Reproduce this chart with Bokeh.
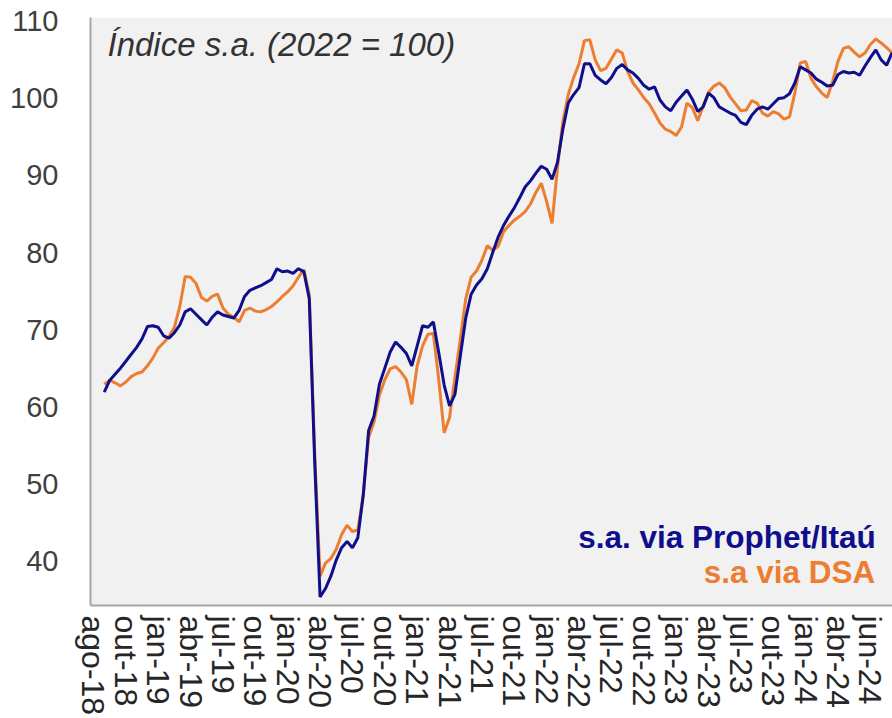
import math
from bokeh.plotting import figure
from bokeh.models import FixedTicker, Range1d, Label
from bokeh.embed import file_html
from bokeh.resources import INLINE

# x index: 6 steps per axis label interval
tick_labels = ["ago-18", "out-18", "jan-19", "abr-19", "jul-19", "out-19", "jan-20",
               "abr-20", "jul-20", "out-20", "jan-21", "abr-21", "jul-21", "out-21",
               "jan-22", "abr-22", "jul-22", "out-22", "jan-23", "abr-23", "jul-23",
               "out-23", "jan-24", "abr-24", "jun-24"]
steps_per_label = 6
first_index = 2

prophet = [
    61.9, 63.4, 64.2, 65.0, 65.9, 66.8, 67.7, 68.8, 70.4, 70.5,
    70.3, 69.2, 68.9, 69.6, 70.6, 72.3, 72.7, 72.0, 71.3, 70.6,
    71.6, 72.3, 71.9, 71.7, 71.5, 72.5, 74.3, 75.1, 75.4, 75.7,
    76.1, 76.5, 77.9, 77.5, 77.6, 77.3, 77.9, 77.5, 74.0, 53.0,
    35.3, 36.4, 38.0, 40.1, 41.7, 42.5, 41.7, 43.0, 48.5, 56.9,
    58.8, 62.9, 65.0, 67.1, 68.4, 67.7, 66.9, 65.3, 67.9, 70.5,
    70.3, 71.0, 67.0, 62.8, 60.1, 61.6, 66.6, 71.5, 74.6, 75.8,
    76.6, 77.9, 80.0, 82.0, 83.5, 84.7, 85.8, 87.1, 88.5, 89.3,
    90.3, 91.2, 90.8, 89.5, 91.7, 96.0, 99.4, 100.5, 101.4, 104.5,
    104.5, 103.0, 102.4, 101.9, 102.7, 103.9, 104.4, 103.7, 103.3, 102.6,
    101.7, 101.2, 101.5, 99.8, 98.9, 98.4, 99.5, 100.3, 101.1, 99.9,
    98.3, 98.9, 100.7, 100.1, 98.9, 98.5, 98.1, 97.8, 96.9, 96.6,
    97.8, 98.6, 98.9, 98.6, 99.3, 100.0, 100.1, 100.6, 102.0, 104.1,
    103.7, 103.3, 102.5, 102.1, 101.6, 101.7, 103.1, 103.5, 103.3, 103.4,
    103.0, 104.2, 105.3, 106.3, 105.0, 104.3, 105.9,
]

dsa = [
    62.9, 63.4, 63.1, 62.7, 63.2, 63.9, 64.3, 64.5, 65.3, 66.3,
    67.6, 68.3, 69.1, 70.3, 73.0, 76.9, 76.8, 76.0, 74.2, 73.7,
    74.3, 74.6, 72.8, 72.0, 71.6, 71.0, 72.5, 72.8, 72.4, 72.3,
    72.6, 73.0, 73.6, 74.3, 74.9, 75.7, 76.8, 77.8, 74.5, 54.0,
    38.0, 39.7, 40.3, 41.5, 43.4, 44.6, 43.8, 44.0, 48.5, 56.0,
    58.0, 61.5, 63.5, 64.9, 65.2, 64.5, 63.5, 60.3, 65.3, 67.9,
    69.4, 69.5, 63.5, 56.6, 58.6, 63.8, 68.8, 74.0, 76.8, 77.6,
    79.0, 80.9, 80.3, 80.8, 82.7, 83.5, 84.2, 84.7, 85.3, 86.3,
    87.8, 89.0, 86.6, 83.8, 91.0, 97.0, 100.5, 102.7, 104.5, 107.5,
    107.6, 105.0, 103.6, 103.9, 105.1, 106.3, 105.9, 103.5, 102.0, 101.1,
    100.1, 99.3, 98.1, 96.8, 96.0, 95.7, 95.2, 96.3, 99.4, 98.8,
    97.1, 99.0, 100.8, 101.6, 102.0, 101.4, 100.2, 99.3, 98.4, 98.5,
    99.7, 99.4, 98.1, 97.7, 98.3, 98.0, 97.3, 97.6, 100.7, 104.6,
    104.8, 102.6, 101.5, 100.7, 100.1, 102.2, 104.8, 106.5, 106.7, 106.0,
    105.4, 105.9, 107.0, 107.7, 107.2, 106.6, 105.9,
]

y_ticks = [40, 50, 60, 70, 80, 90, 100, 110]

x = list(range(first_index, first_index + len(prophet)))
tick_pos = [k * steps_per_label for k in range(len(tick_labels))]

BLUE = "#0f0f8c"
ORANGE = "#ed7d31"

p = figure(width=892, height=718, output_backend="svg", toolbar_location=None,
           x_range=Range1d(-0.55, 148.1), y_range=Range1d(34.2, 110.5),
           min_border_left=90, min_border_right=0, min_border_top=17,
           min_border_bottom=110)

p.background_fill_color = "#f1f1f1"
p.border_fill_color = "white"
p.outline_line_color = None
p.grid.grid_line_color = None

p.line(x, dsa, line_color=ORANGE, line_width=3)
p.line(x, prophet, line_color=BLUE, line_width=3)

# axes
p.yaxis.ticker = FixedTicker(ticks=y_ticks)
p.yaxis.major_tick_line_color = None
p.yaxis.minor_tick_line_color = None
p.yaxis.axis_line_color = "#a6a6a6"
p.yaxis.axis_line_width = 2
p.yaxis.major_label_text_font = "Liberation Sans"
p.yaxis.major_label_text_font_size = "29px"
p.yaxis.major_label_text_color = "#404040"
p.yaxis.major_label_standoff = 26

p.xaxis.ticker = FixedTicker(ticks=tick_pos)
p.xaxis.major_label_overrides = {pos: lab for pos, lab in zip(tick_pos, tick_labels)}
p.xaxis.major_tick_line_color = None
p.xaxis.minor_tick_line_color = None
p.xaxis.axis_line_color = "#a6a6a6"
p.xaxis.axis_line_width = 2
p.xaxis.major_label_text_font = "Liberation Sans"
p.xaxis.major_label_text_font_size = "32px"
p.xaxis.major_label_text_color = "#262626"
p.xaxis.major_label_orientation = -math.pi / 2
p.xaxis.major_label_standoff = 4

# annotations
p.add_layout(Label(x=2.6, y=107.0, text="Índice s.a. (2022 = 100)",
                   text_font="Liberation Sans", text_font_style="italic",
                   text_font_size="33px", text_color="#333333",
                   text_baseline="alphabetic", text_align="left"))
p.add_layout(Label(x=145.0, y=43.1, text="s.a. via Prophet/Itaú",
                   text_font="Liberation Sans", text_font_style="bold",
                   text_font_size="31.5px", text_color=BLUE,
                   text_baseline="alphabetic", text_align="right"))
p.add_layout(Label(x=144.9, y=38.6, text="s.a via DSA",
                   text_font="Liberation Sans", text_font_style="bold",
                   text_font_size="31.5px", text_color=ORANGE,
                   text_baseline="alphabetic", text_align="right"))

open("out.html", "w").write(file_html(p, INLINE))
